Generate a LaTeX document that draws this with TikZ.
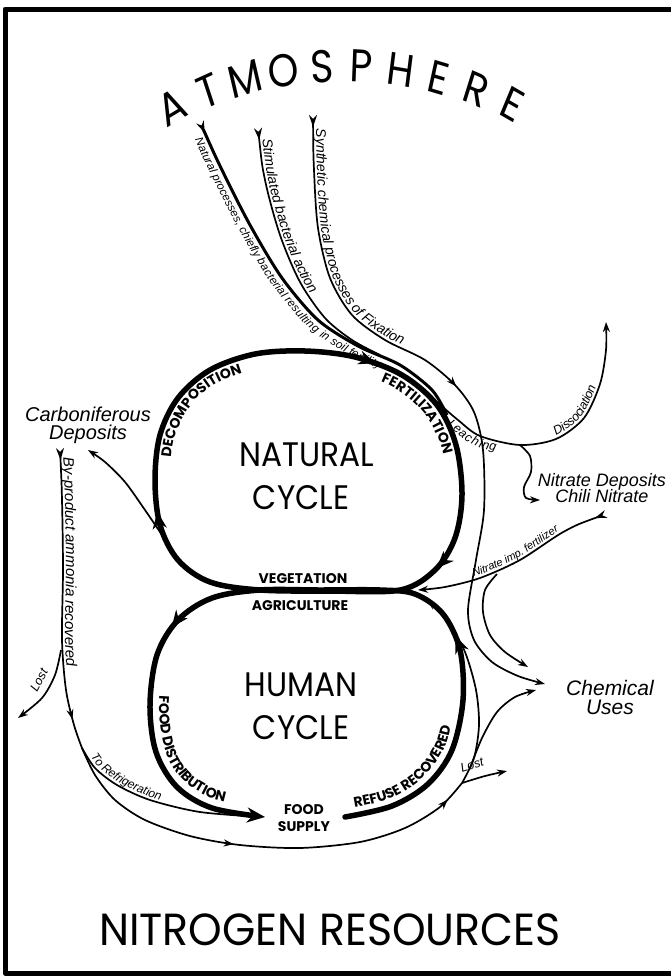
\documentclass[tikz,border=0pt]{standalone}
\usepackage{fontspec}
\setmainfont{Poppins}
\newfontfamily\handfont{Liberation Sans}
\usetikzlibrary{arrows.meta,decorations.markings,decorations.text}

\newcommand{\hw}[1]{\handfont\itshape\fontsize{#1}{#1}\selectfont}
\newcommand{\capsfont}{\bfseries\fontsize{14}{14}\selectfont}

\tikzset{
  cyc/.style={line width=5.5pt, line cap=round},
  flow/.style={line width=1.7pt},
  heavy/.style={line width=3pt},
  endtip/.style={-{Stealth[length=10pt,width=7pt]}},
  flowtail/.style={{Stealth[reversed,length=12pt,width=8pt]}-},
  tailtip/.style={{Stealth[reversed,length=12pt,width=8pt]}-{Stealth[length=10pt,width=7pt]}},
  midarrow/.style={postaction={decorate,decoration={markings,mark=at position #1 with {\arrow{Stealth[length=10pt,width=7pt]}}}}},
  bigarrow/.style={postaction={decorate,decoration={markings,mark=at position #1 with {\arrow{Stealth[length=17pt,width=14pt]}}}}},
  arcletter/.style={font=\fontsize{46}{46}\selectfont, xscale=0.85, inner sep=0pt},
  cyclename/.style={font=\fontsize{34}{34}\selectfont, xscale=0.92, inner sep=0pt},
  capslbl/.style={font=\capsfont, inner sep=0pt},
  handlbl/.style={font=\hw{21}, inner sep=0pt, align=center},
}

\begin{document}
\begin{tikzpicture}[x=1pt, y=-1pt, line join=round]
  \useasboundingbox (0,0) rectangle (671,978);

  % frame
  \draw[line width=5pt] (671,9) -- (5,9) -- (5,973) -- (671,973);

  % atmosphere lettering
  \foreach \l [count=\i] in {A,T,M,O,S,P,H,E,R,E}{
    \pgfmathsetmacro\a{117-(\i-1)*5.9}
    \pgfmathsetmacro\rot{\a-90}
    \node[arcletter, rotate=\rot] (atm\i) at ({345+380*cos(\a)},{446-380*sin(\a)}) {\l};
  }

  % key points
  \coordinate (agri) at (418,590);
  \coordinate (agriup) at (428,600);
  \coordinate (junc) at (462,783);
  \coordinate (ubot) at (520,445);
  \coordinate (fork) at (82,748);
  \coordinate (carbin) at (88,450);
  \coordinate (chili) at (540,500);
  \coordinate (lostend) at (507,771);
  \coordinate (lostlend) at (18,718);
  \coordinate (dissoc) at (606,322);

  % the two cycles
  \draw[cyc, bigarrow=0.235, bigarrow=0.6, bigarrow=0.875] plot[smooth cycle, tension=0.55] coordinates {(400,590) (330,591) (260,590) (210,582) (178,560) (160,525) (155,480) (160,435) (178,398) (210,370) (255,354) (305,351) (355,357) (402,375) (437,405) (456,445) (462,495) (455,538) (435,570)};
  \draw[cyc, -{Stealth[length=18pt,width=15pt]}, bigarrow=0.3, bigarrow=0.68] plot[smooth, tension=0.55] coordinates {(345,817) (392,806) (428,784) (452,750) (463,700) (460,650) (443,614) (415,594) (380,590) (320,590) (260,590) (212,598) (178,620) (157,655) (150,705) (156,752) (177,787) (212,808) (265,817)};

  \node[cyclename] (natural) at (307,455) {NATURAL};
  \node[cyclename] (natcycle) at (301,498) {CYCLE};
  \node[cyclename] (human) at (301,685) {HUMAN};
  \node[cyclename] (humcycle) at (301,728) {CYCLE};

  \node[capslbl] (veg) at (303,579) {VEGETATION};
  \node[capslbl] (agr) at (300,606) {AGRICULTURE};
  \node[capslbl] (food) at (304,810) {FOOD};
  \node[capslbl] (supply) at (304,827) {SUPPLY};

  \path[decorate, decoration={text along path, text align=center, text={|\capsfont|DECOMPOSITION}}] plot[smooth] coordinates {(174,521) (170,480) (174,439) (191,405) (217,383) (258,369) (305,366)};
  \path[decorate, decoration={text along path, text align=center, text={|\capsfont|FERTILIZATION}}] plot[smooth] coordinates {(304,366) (351,372) (394,388) (425,414) (442,449) (447,495) (441,533)};
  \path[decorate, decoration={text along path, raise=2pt, text align=center, text={|\capsfont|FOOD DISTRIBUTION}}] plot[smooth] coordinates {(183,625) (164,657) (157,705) (163,750) (182,782) (214,801) (266,810) (300,812)};
  \path[decorate, decoration={text along path, raise=1pt, text align=center, text={|\capsfont|REFUSE RECOVERED}}] plot[smooth] coordinates {(280,811) (300,811) (344,810) (389,800) (423,779) (446,747) (456,700) (453,652)};

  % flows from the atmosphere
  \draw[heavy, flowtail] plot[smooth] coordinates {(200,122) (222,170) (250,225) (282,278) (318,320) (358,346) (400,365) (432,390) (447,415)};
  \draw[flow, flowtail] plot[smooth] coordinates {(258,128) (265,180) (280,235) (300,282) (325,318) (352,340) (380,355)};
  \draw[flow, tailtip, midarrow=0.49] plot[smooth] coordinates {(313,115) (314,170) (318,228) (330,278) (352,315) (385,340) (425,360) (455,385) (474,412) (483,450) (484,510) (476,560) (468,610) (474,640) (492,662) (518,676) (545,684)};

  \path[decorate, decoration={text along path, raise=-12pt, text align={left indent=14pt}, text={|\hw{11.5}|Natural processes, chiefly bacterial resulting in soil fertility}}] plot[smooth] coordinates {(200,122) (222,170) (250,225) (282,278) (318,320) (358,346) (400,365) (432,390) (447,415)};
  \path[decorate, decoration={text along path, raise=3pt, text align={left indent=12pt}, text={|\hw{14}|Stimulated bacterial action}}] plot[smooth] coordinates {(258,128) (265,180) (280,235) (300,282) (325,318) (352,340) (380,355)};
  \path[decorate, decoration={text along path, raise=3pt, text align={left indent=14pt}, text={|\hw{14}|Synthetic chemical processes of Fixation}}] plot[smooth] coordinates {(313,115) (314,170) (318,228) (330,278) (352,315) (385,340) (425,360) (455,385)};

  % leaching, dissociation, nitrate deposits
  \draw[flow, endtip] plot[smooth] coordinates {(437,402) (458,420) (480,436) (ubot) (556,439) (584,418) (600,384) (606,350) (dissoc)};
  \draw[flow, endtip] plot[smooth] coordinates {(ubot) (530,456) (531,472) (524,487) (526,498) (chili)};
  \path[decorate, decoration={text along path, raise=-11pt, text align=center, text={|\hw{12.5}|Leaching}}] plot[smooth] coordinates {(437,402) (458,420) (480,436) (ubot)};
  \path[decorate, decoration={text along path, raise=3pt, text align=center, text={|\hw{12.5}|Dissociation}}] plot[smooth] coordinates {(ubot) (556,439) (584,418) (600,384) (606,350)};

  \node[handlbl, font=\hw{18}] (nitdep) at (602,488) {Nitrate Deposits\\[-2pt]Chili Nitrate};

  % nitrate imports
  \draw[flow, tailtip] plot[smooth] coordinates {(606,514) (565,531) (520,560) (480,578) (445,587) (agri)};
  \draw[flow, endtip] plot[smooth] coordinates {(497,574) (485,590) (483,612) (490,635) (505,652) (528,667)};
  \path[decorate, decoration={text along path, raise=3pt, text align={left indent=58pt}, text={|\hw{11}|Nitrate imp. fertilizer}}] plot[smooth] coordinates {(agri) (445,587) (480,578) (520,560) (565,531) (606,514)};

  % refuse and chemical uses
  \draw[flow, endtip] plot[smooth] coordinates {(junc) (474,758) (479,725) (476,690) (465,652) (448,622) (agriup)};
  \draw[flow, endtip] plot[smooth] coordinates {(470,768) (482,738) (497,712) (515,697) (536,690)};
  \draw[flow, endtip] plot[smooth] coordinates {(junc) (485,776) (lostend)};
  \node[font=\hw{12.5}, rotate=18, inner sep=0pt] (lostr) at (472,765) {Lost};
  \node[handlbl] (chem) at (610,697) {Chemical\\[-2pt]Uses};

  % carboniferous deposits
  \node[handlbl, font=\hw{20}] (carb) at (88,425) {Carboniferous\\[-2pt]Deposits};
  \draw[flow, endtip] plot[smooth] coordinates {(162,535) (145,510) (125,482) (105,462) (carbin)};
  \draw[flow, flowtail, midarrow=0.9] plot[smooth] coordinates {(60,448) (62,500) (63,570) (62,640) (66,690) (74,725) (fork)};
  \draw[flow, endtip] plot[smooth] coordinates {(61,650) (55,675) (42,698) (lostlend)};
  \node[font=\hw{12.5}, rotate=62, inner sep=0pt] (lostl) at (39,680) {Lost};
  \draw[flow] plot[smooth] coordinates {(fork) (95,768) (117,785) (150,800) (200,812) (262,817)};
  \draw[flow, midarrow=0.435, midarrow=0.95] plot[smooth] coordinates {(fork) (95,775) (115,800) (145,820) (190,836) (240,845) (300,848) (360,842) (405,828) (440,807) (junc)};

  \path[decorate, decoration={text along path, raise=3pt, text align={left indent=10pt}, text={|\hw{15}|By-product ammonia recovered}}] plot[smooth] coordinates {(60,448) (62,500) (63,570) (62,640) (66,690) (74,725) (fork)};
  \path[decorate, decoration={text along path, raise=3pt, text align={left indent=12pt}, text={|\hw{12}|To Refrigeration}}] plot[smooth] coordinates {(fork) (95,768) (117,785) (150,800) (200,812) (262,817)};

  % title
  \node[font=\fontsize{45}{45}\selectfont, xscale=0.95, inner sep=0pt] (nitres) at (330,930) {NITROGEN RESOURCES};
\end{tikzpicture}
\end{document}
